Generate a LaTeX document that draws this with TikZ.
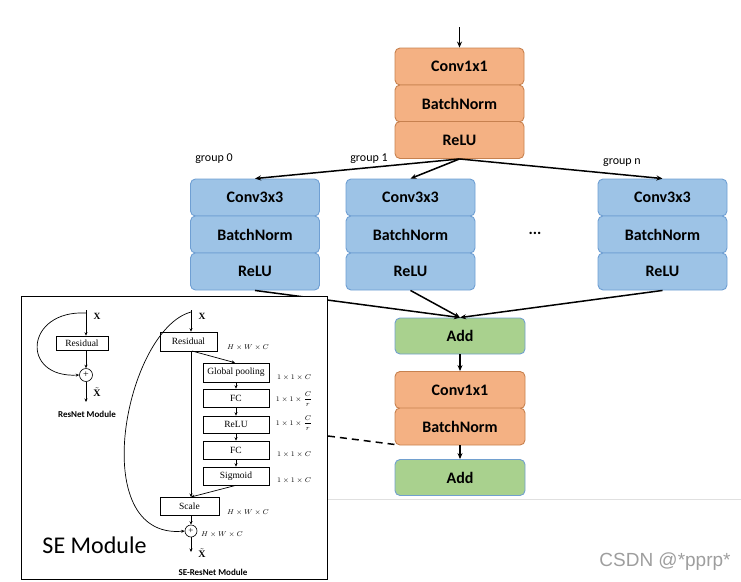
\documentclass[tikz,border=0pt]{standalone}
\usepackage{fontspec}
\setmainfont{Liberation Serif}
\newfontfamily\calfont{Carlito}
\newfontfamily\arifont{Liberation Sans}
\usetikzlibrary{arrows.meta}
\definecolor{orfill}{HTML}{F4B183}
\definecolor{ordraw}{HTML}{C7814F}
\definecolor{blfill}{HTML}{9DC3E6}
\definecolor{bldraw}{HTML}{6F9FD3}
\definecolor{grfill}{HTML}{A9D18E}
\definecolor{grdraw}{HTML}{72A0CF}
\begin{document}
\begin{tikzpicture}[x=1pt,y=-1pt,
  blk/.style={draw, line width=0.9pt, rounded corners=5pt, minimum width=129pt, minimum height=37pt, inner sep=0pt, font=\calfont\bfseries\fontsize{16}{19}\selectfont},
  orblk/.style={blk, fill=orfill, draw=ordraw},
  blblk/.style={blk, fill=blfill, draw=bldraw},
  grblk/.style={blk, fill=grfill, draw=grdraw, minimum width=130pt, minimum height=36pt},
  arr/.style={line width=1.5pt, -{Stealth[length=6pt,width=5pt]}},
  conn/.style={line width=1.5pt},
  glab/.style={font=\calfont\fontsize{12}{14}\selectfont},
  sebx/.style={draw, line width=0.6pt, inner sep=0pt, font=\fontsize{9.5}{11}\selectfont},
  searr/.style={line width=0.7pt, -{Stealth[length=3.5pt,width=3pt]}},
  dimlab/.style={font=\fontsize{7.5}{9}\selectfont},
  boldx/.style={font=\bfseries\fontsize{9.5}{11}\selectfont},
  modlab/.style={font=\calfont\bfseries\fontsize{9}{11}\selectfont}
]
\useasboundingbox (0,0) rectangle (741,581);

% ---------- top stack ----------
\coordinate (in) at (459.5,27);
\node[orblk] (c1) at (459.5,66.5) {Conv1x1};
\node[orblk] (bn1) at (459.5,103.5) {BatchNorm};
\node[orblk] (rl1) at (459.5,140) {ReLU};
\draw[arr] (in) -- (c1.north);

% ---------- groups ----------
\foreach \n/\x in {g0/255, g1/410.5, gn/662.5}{
  \node[blblk] (\n c) at (\x,197.5) {Conv3x3};
  \node[blblk] (\n b) at (\x,234.5) {BatchNorm};
  \node[blblk] (\n r) at (\x,271.5) {ReLU};
}
\node[font=\calfont\bfseries\fontsize{16}{19}\selectfont] (dots) at (535,233) {...};
\node[glab] (l0) at (214,159) {group 0};
\node[glab] (l1) at (369,159) {group 1};
\node[glab] (ln) at (622,163) {group n};
\draw[arr] (rl1.south) -- (g0c.north);
\draw[arr] (rl1.south) -- (g1c.north);
\draw[arr] (rl1.south) -- (gnc.north);

% ---------- bottom ----------
\node[grblk] (add1) at (460,336) {Add};
\node[orblk, minimum width=130pt] (c2) at (460,390) {Conv1x1};
\node[orblk, minimum width=130pt] (bn2) at (460,426.5) {BatchNorm};
\node[grblk] (add2) at (460,477.5) {Add};
\draw[arr] (g0r.south) -- (add1.north);
\draw[arr] (g1r.south) -- (add1.north);
\draw[arr] (gnr.south) -- (add1.north);
\draw[arr] (add1.south) -- (c2.north);
\draw[arr] (bn2.south) -- (add2.north);

% faint separator line of the screenshot
\coordinate (sepA) at (328,499);
\coordinate (sepB) at (741,499);
\draw[black!12, line width=0.8pt] (sepA) -- (sepB);

% ---------- SE module inset ----------
\node[draw, fill=white, line width=0.9pt, minimum width=306pt, minimum height=283pt, inner sep=0pt, anchor=north west] (sebox) at (21,296) {};

% ResNet module
\coordinate (x1) at (86,310);
\coordinate (x1s) at (86,313);
\node[boldx] (xl1) at (97,316) {X};
\node[sebx, minimum width=52pt, minimum height=14pt] (r1) at (82,343) {Residual};
\node[circle, draw, line width=0.6pt, minimum size=13pt, inner sep=0pt, font=\fontsize{10}{10}\selectfont] (p1) at (86,375) {+};
\coordinate (o1) at (86,402);
\draw[searr] (x1) -- (x1 |- r1.north);
\draw[searr] (x1 |- r1.south) -- (p1.north);
\draw[searr] (p1.south) -- (o1);
\draw[searr] (x1s) .. controls (25,310) and (20,378) .. (p1.west);
\node[font=\fontsize{10}{11}\selectfont] (xt1) at (97,392) {$\tilde{\mathbf{X}}$};
\node[modlab] (m1) at (87,414) {ResNet Module};

% SE-ResNet module
\coordinate (x2) at (191,310);
\coordinate (x2s) at (191,312);
\node[boldx] (xl2) at (202,316) {X};
\node[sebx, minimum width=57pt, minimum height=19pt] (r2) at (188.5,341.5) {Residual};
\node[dimlab] (d0) at (248,348) {$H\times W\times C$};
\coordinate (r2o) at (192,351);
\node[sebx, minimum width=66pt, minimum height=19pt] (gp) at (236,372.5) {Global pooling};
\node[sebx, minimum width=66pt, minimum height=18pt] (fc1) at (236,398) {FC};
\node[sebx, minimum width=66pt, minimum height=17pt] (rl) at (236,424.5) {ReLU};
\node[sebx, minimum width=66pt, minimum height=18pt] (fc2) at (236,450) {FC};
\node[sebx, minimum width=66pt, minimum height=18pt] (sg) at (236,476) {Sigmoid};
\node[dimlab] (d1) at (294,378) {$1\times 1\times C$};
\node[dimlab] (d2) at (294,399) {$1\times 1\times \displaystyle\frac{C}{r}$};
\node[dimlab] (d3) at (294,423) {$1\times 1\times \displaystyle\frac{C}{r}$};
\node[dimlab] (d4) at (294,455) {$1\times 1\times C$};
\node[dimlab] (d5) at (294,481) {$1\times 1\times C$};
\draw[searr] (r2o) -- ([xshift=-1pt]gp.north);
\draw[searr] (gp) -- (fc1);
\draw[searr] (fc1) -- (rl);
\draw[searr] (rl) -- (fc2);
\draw[searr] (fc2) -- (sg);
\node[sebx, minimum width=59pt, minimum height=18pt] (sc) at (189.5,506) {Scale};
\coordinate (scin) at (191,497);
\draw[searr] (sg.south) -- (scin);
\draw[searr] (x2) -- (x2 |- r2.north);
\draw[searr] (x2 |- r2.south) -- (scin);
\node[dimlab] (d6) at (248,513) {$H\times W\times C$};
\node[circle, draw, line width=0.6pt, minimum size=12pt, inner sep=0pt, font=\fontsize{9}{9}\selectfont] (p2) at (191,531) {+};
\draw[searr] (x2 |- sc.south) -- (p2.north);
\node[dimlab] (d7) at (222,535) {$H\times W\times C$};
\coordinate (o2) at (191,552);
\draw[searr] (p2.south) -- (o2);
\node[font=\fontsize{10}{11}\selectfont] (xt2) at (202,553) {$\tilde{\mathbf{X}}$};
\draw[searr] (x2s) .. controls (125,330) and (85,540) .. (p2.west);
\node[modlab] (m2) at (213,572) {SE-ResNet Module};
\node[font=\calfont\fontsize{24}{28}\selectfont] (setitle) at (94.5,545) {SE Module};

% dashed link
\coordinate (dstart) at (328,436);
\draw[conn, dash pattern=on 7pt off 5pt] (dstart) -- ([yshift=1pt]bn2.south west);

% watermark
\node[font=\arifont\fontsize{19}{22}\selectfont, text=black!38] (wm) at (665,562) {CSDN @*pprp*};
\end{tikzpicture}
\end{document}
